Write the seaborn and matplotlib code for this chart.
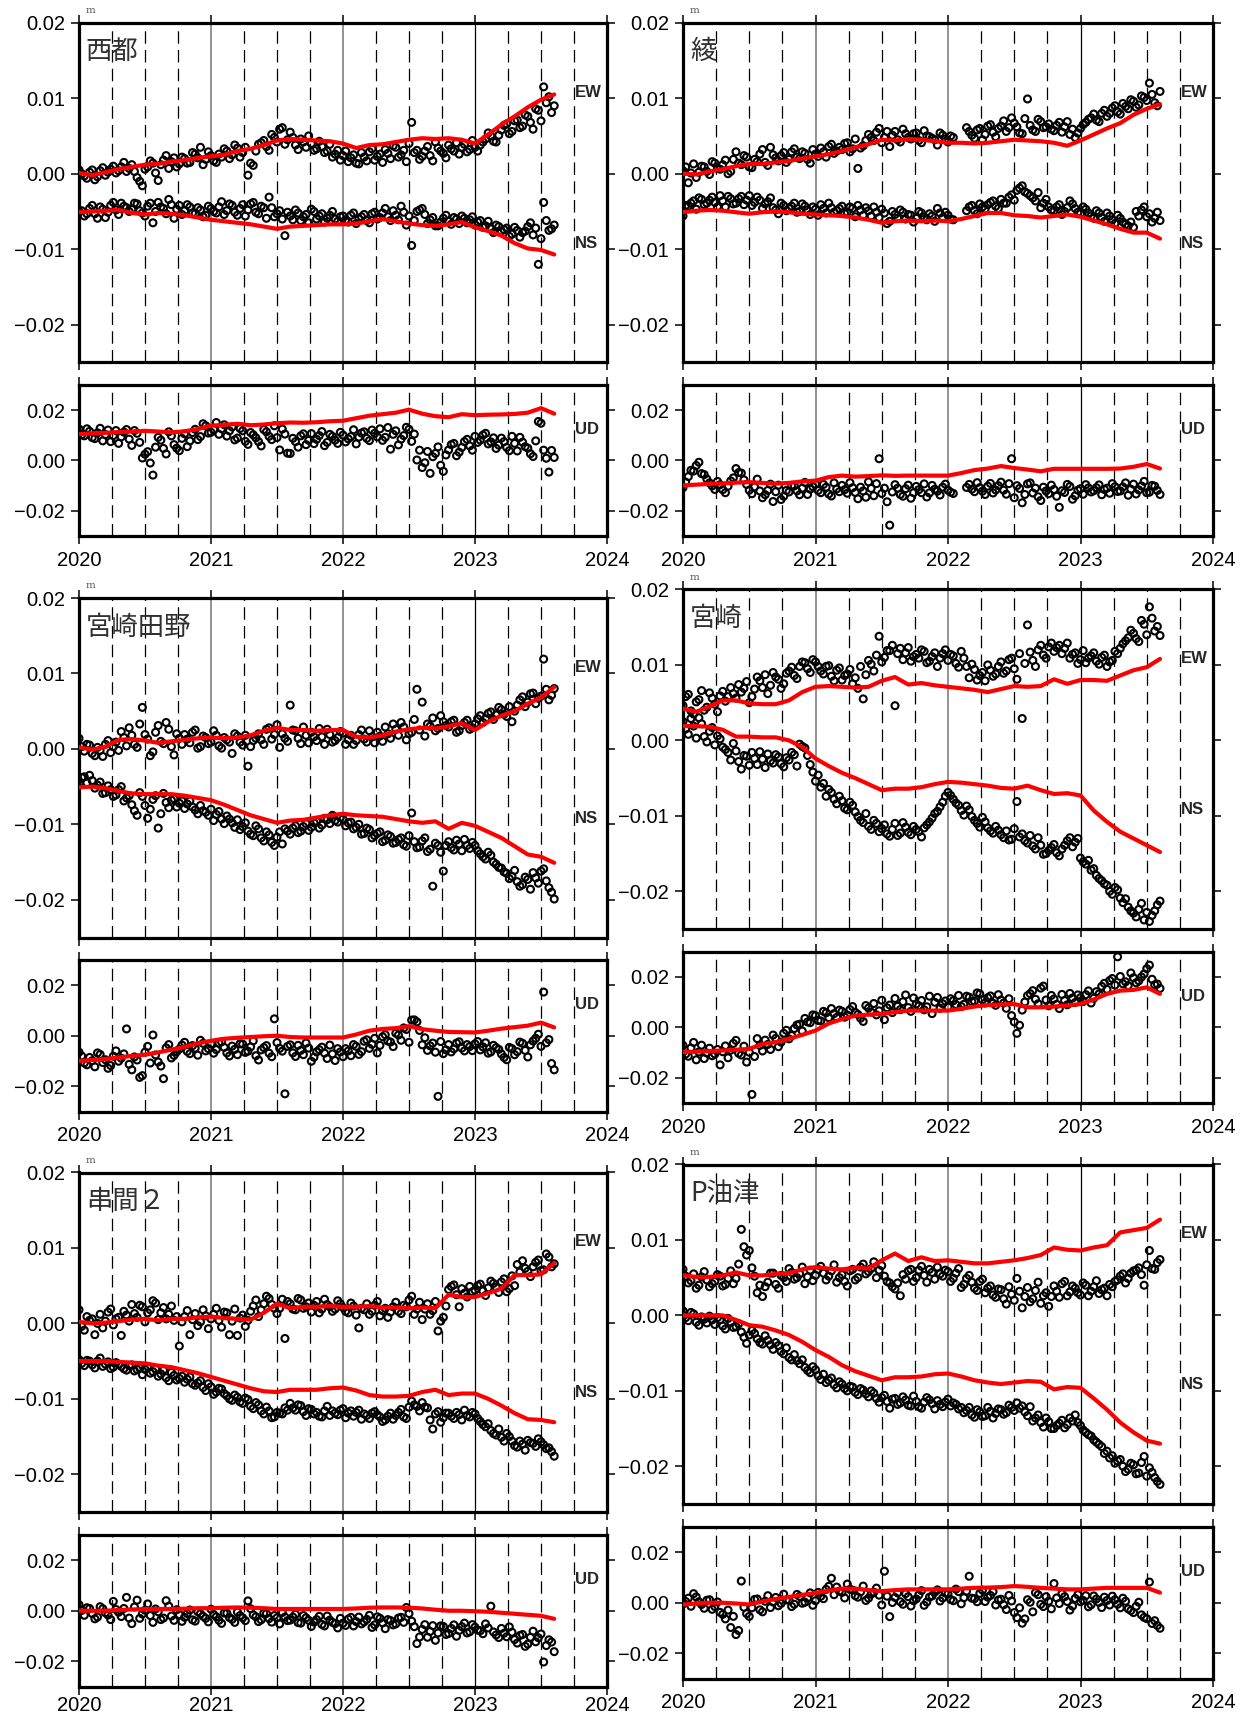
import numpy as np
import pandas as pd
import matplotlib
matplotlib.use("Agg")
import matplotlib.pyplot as plt
from matplotlib.ticker import FixedLocator, FuncFormatter
import seaborn as sns

nan = np.nan
# ---------------- time axes ----------------
OBS_YEARS_A = np.round(2020.00 + 0.04 * np.arange(91), 2)   # observation epochs (set A)
OBS_YEARS_B = np.round(2020.02 + 0.04 * np.arange(90), 2)   # observation epochs (set B)
MOD_YEARS = np.round(2020.0 + 0.1 * np.arange(37), 1)       # model epochs
YEAR_TICKS = [2020, 2021, 2022, 2023, 2024]
HORIZ_TICKS = [-0.02, -0.01, 0.0, 0.01, 0.02]
UD_TICKS = [-0.02, 0.0, 0.02]

# ---------------- data (mm) ----------------
# 西都
SAITO_EW_OBS = [0.5, -0.3, 0.2, -0.8, 0.4, -0.2, 0.6, 0.1, 0.9, 0.3,
 1.2, -0.5, -1.6, 0.9, 1.4, -0.9, 1.8, 0.7, 2.1, 1.3,
 2.0, 1.5, 2.6, 3.5, 1.9, 2.4, 1.5, 2.2, 3.0, 2.5,
 3.4, 2.8, -0.2, 1.1, 3.9, 4.4, 3.1, 4.8, 5.9, 3.9,
 5.5, 3.8, 4.6, 3.5, 4.0, 3.3, 3.6, 3.0, 2.2, 3.1,
 2.4, 1.6, 2.5, 1.3, 2.2, 2.9, 1.8, 2.6, 3.2, 2.0,
 3.5, 2.5, 1.6, 6.8, 3.1, 2.3, 3.6, 1.7, 3.4, 2.7,
 3.8, 3.0, 2.6, 3.9, 3.2, 3.5, 3.8, 4.6, 5.0, 4.2,
 5.8, 6.6, 5.6, 7.1, 6.3, 7.6, 5.9, 8.4, 11.5, 10.2, 9.0]
SAITO_EW_OBS_B = [0.0, -0.6, 0.5, -0.4, 0.8, 0.2, 1.0, 0.4, 1.5, 0.7,
 0.3, -1.0, 0.6, 1.7, 0.1, 1.2, 2.4, 1.6, 0.9, 2.2,
 1.4, 2.8, 2.1, 1.2, 2.9, 1.7, 2.6, 3.3, 2.0, 3.8,
 2.2, 3.5, 1.4, 3.0, 4.1, 3.6, 5.2, 4.2, 6.1, 4.5,
 4.8, 3.2, 4.2, 5.0, 3.1, 4.3, 2.8, 3.9, 2.6, 1.8,
 3.0, 2.1, 1.4, 2.8, 1.7, 3.3, 2.3, 1.5, 2.7, 3.7,
 2.2, 3.1, 4.0, 2.8, 1.9, 3.0, 2.4, 4.2, 3.0, 2.1,
 3.3, 4.1, 3.5, 2.9, 4.4, 3.0, 4.2, 5.4, 4.3, 5.1,
 6.4, 5.3, 7.0, 6.1, 7.8, 6.8, 8.6, 7.0, 9.4, 8.1]
SAITO_EW_MOD = [0.1, -0.2, 0.2, 0.6, 0.9, 1.2, 1.3, 1.6, 1.8, 2.1,
 2.3, 2.5, 3.0, 3.3, 3.8, 4.4, 4.6, 4.5, 4.4, 4.3,
 4.0, 3.4, 3.8, 3.9, 4.2, 4.5, 4.7, 4.6, 4.7, 4.5,
 4.0, 5.2, 6.5, 7.6, 8.8, 9.8, 10.5]
SAITO_NS_OBS = [-5.0, -5.6, -4.6, -5.3, -4.4, -5.8, -4.2, -4.8, -3.9, -4.5,
 -4.7, -4.0, -5.2, -4.3, -6.5, -3.8, -4.6, -3.4, -5.9, -4.2,
 -4.9, -4.4, -5.3, -4.8, -5.5, -4.6, -5.2, -3.7, -4.9, -4.2,
 -5.5, -4.1, -4.8, -3.8, -5.3, -4.5, -3.1, -5.7, -4.9, -8.2,
 -5.6, -4.8, -6.2, -5.4, -4.7, -6.0, -5.3, -5.9, -5.0, -6.3,
 -5.6, -6.4, -5.2, -6.0, -5.4, -6.5, -5.1, -5.8, -4.6, -6.2,
 -5.5, -4.3, -6.8, -9.5, -5.0, -4.6, -6.6, -5.8, -6.9, -5.9,
 -6.3, -5.8, -6.6, -5.9, -6.1, -6.8, -6.2, -6.9, -7.3, -6.8,
 -7.6, -7.2, -8.0, -7.5, -7.8, -7.0, -8.1, -12.0, -3.8, -7.5, -6.8]
SAITO_NS_OBS_B = [-4.9, -5.3, -4.2, -5.9, -4.7, -5.1, -3.8, -5.4, -4.3, -5.0,
 -3.9, -4.9, -5.6, -3.9, -5.0, -4.4, -5.3, -4.1, -4.7, -5.4,
 -4.1, -5.2, -4.5, -5.7, -4.3, -5.0, -4.4, -5.4, -4.0, -5.1,
 -4.6, -5.6, -4.0, -5.1, -4.3, -5.9, -4.5, -5.3, -6.0, -5.1,
 -6.1, -5.2, -5.7, -6.5, -5.0, -5.6, -6.4, -5.5, -6.0, -5.7,
 -6.1, -5.5, -6.6, -5.7, -6.2, -5.3, -6.0, -5.2, -5.7, -4.9,
 -6.1, -5.1, -5.6, -6.2, -4.8, -5.4, -6.1, -6.9, -6.4, -5.5,
 -6.7, -6.0, -5.6, -6.5, -5.7, -6.4, -7.1, -6.3, -7.8, -7.0,
 -7.4, -8.3, -7.1, -8.4, -7.6, -6.5, -7.2, -8.6, -6.2, -7.3]
SAITO_NS_MOD = [-5.1, -5.0, -4.9, -4.8, -5.2, -5.4, -5.2, -5.3, -5.5, -5.8,
 -6.1, -6.3, -6.5, -6.7, -7.0, -7.3, -7.0, -6.9, -6.8, -6.7,
 -6.7, -6.6, -6.3, -6.0, -6.3, -6.6, -6.8, -6.9, -6.7, -6.4,
 -7.1, -7.6, -8.2, -9.2, -9.9, -10.1, -10.7]
SAITO_UD_OBS = [12.5, 9.8, 11.6, 8.7, 12.8, 10.3, 7.5, 11.9, 9.4, 12.3,
 6.0, 10.8, 1.0, 3.5, -5.8, 9.2, 4.8, 11.4, 6.3, 3.9,
 10.6, 7.8, 12.4, 9.5, 13.8, 11.2, 15.1, 12.6, 9.7, 13.3,
 8.9, 11.8, 6.4, 10.2, 7.5, 12.3, 9.6, 13.8, 4.2, 10.5,
 2.8, 7.5, 9.8, 6.3, 10.7, 8.4, 11.5, 7.2, 9.6, 6.8,
 10.1, 8.6, 12.2, 9.3, 11.4, 7.9, 10.8, 12.6, 9.2, 4.5,
 11.8, 8.5, 13.2, 7.6, 0.2, -2.8, 3.6, 1.5, 5.4, -4.3,
 4.2, 6.8, 3.3, 7.5, 5.8, 9.6, 8.1, 10.8, 7.4, 4.8,
 8.9, 5.2, 9.6, 3.8, 7.3, 4.9, 1.6, 15.5, 4.1, -4.6, 1.2]
SAITO_UD_OBS_B = [10.2, 12.6, 9.1, 11.0, 7.8, 12.1, 9.9, 6.8, 11.3, 8.5,
 11.9, 7.2, 2.5, -1.0, 5.3, 8.1, 2.6, 9.8, 4.9, 8.8,
 5.5, 11.1, 8.3, 14.6, 10.9, 12.3, 10.4, 14.2, 11.8, 8.2,
 12.7, 7.6, 11.1, 9.0, 5.8, 11.4, 8.3, 9.1, 12.5, 2.9,
 8.8, 5.3, 10.6, 8.0, 6.7, 9.9, 5.9, 10.4, 8.1, 11.2,
 7.4, 9.5, 6.6, 10.9, 8.8, 12.1, 9.4, 8.0, 13.1, 10.4,
 6.2, 9.9, 12.4, 10.5, 4.1, -0.9, -5.1, 2.8, -1.9, 2.2,
 6.3, 1.9, 5.2, 8.4, 4.1, 7.2, 10.1, 6.6, 9.0, 6.1,
 7.5, 3.9, 6.8, 9.2, 5.5, 2.7, 7.8, 14.8, 0.9, 4.0]
SAITO_UD_MOD = [10.5, 10.8, 11.0, 11.3, 11.5, 11.8, 11.5, 11.2, 11.6, 12.5,
 13.8, 14.2, 14.6, 14.0, 14.3, 14.8, 15.1, 15.0, 15.2, 15.6,
 15.8, 16.8, 17.8, 18.4, 19.0, 20.2, 18.6, 17.6, 17.2, 18.4,
 18.0, 18.2, 18.3, 18.5, 19.0, 20.8, 18.6]

# 綾
AYA_EW_OBS = [0.4, -1.2, 1.3, 0.2, 0.9, -0.1, 1.4, 0.6, 1.8, 0.3,
 2.9, 1.2, 2.2, 0.8, 1.6, 3.2, 1.1, 2.5, 1.7, 2.8,
 1.9, 3.3, 2.0, 2.7, 1.4, 2.6, 3.4, 2.2, 3.9, 3.0,
 3.2, 4.1, 3.3, 0.7, 3.7, 5.2, 4.4, 6.0, 4.8, 3.6,
 5.6, 4.2, 5.3, 4.6, 5.4, 4.1, 5.0, 4.7, 3.8, 5.1,
 4.2, 4.8, nan, nan, 5.6, 4.7, 6.0, 5.2, 6.5, 4.9,
 6.3, 5.6, 7.4, 6.2, 5.3, 9.9, 5.8, 7.2, 6.1, 6.6,
 5.7, 6.8, 6.2, 5.2, 4.8, 6.0, 6.8, 7.4, 7.1, 8.0,
 7.6, 8.7, 8.2, 9.3, 8.6, 9.6, 9.1, 10.1, 12.0, 9.4, 10.9]
AYA_EW_OBS_B = [0.9, 0.1, -0.5, 1.0, 0.3, 1.6, 0.7, 1.2, 0.0, 1.9,
 1.4, 2.4, 0.9, 1.9, 2.6, 1.5, 3.5, 2.1, 2.4, 1.5,
 2.9, 2.2, 2.9, 1.9, 3.2, 2.3, 2.9, 3.6, 2.7, 3.5,
 4.0, 2.9, 4.6, 3.4, 4.4, 4.8, 5.5, 4.1, 5.6, 5.1,
 4.5, 5.9, 4.8, 5.3, 4.4, 5.7, 4.9, 4.5, 5.4, 4.6,
 5.0, nan, nan, 6.1, 5.1, 5.8, 4.5, 6.3, 5.5, 6.0,
 7.0, 6.1, 6.7, 5.4, 7.3, 6.4, 5.6, 6.9, 6.2, 5.9,
 6.4, 5.5, 6.9, 5.9, 5.4, 6.5, 7.2, 7.9, 6.9, 8.4,
 8.0, 9.0, 7.9, 8.9, 9.8, 8.8, 10.3, 9.7, 10.5, 9.0]
AYA_EW_MOD = [0.0, -0.1, 0.3, 0.6, 1.0, 1.3, 1.3, 1.5, 1.7, 2.0,
 2.3, 2.6, 3.0, 3.5, 3.9, 4.5, 4.4, 4.6, 4.5, 4.3,
 4.1, 4.1, 4.0, 4.1, 4.3, 4.5, 4.4, 4.3, 4.1, 3.7,
 4.4, 5.2, 6.0, 6.7, 7.8, 8.6, 9.2]
AYA_NS_OBS = [-5.6, -4.3, -3.6, -3.2, -4.1, -3.5, -3.8, -2.9, -4.4, -3.3,
 -3.9, -3.0, -3.5, -4.2, -3.1, -4.6, -3.7, -4.5, -5.3, -4.2,
 -4.6, -3.9, -5.0, -4.3, -5.4, -4.7, -4.1, -5.2, -4.5, -4.9,
 -4.3, -5.1, -4.6, -4.2, -5.5, -4.9, -4.4, -5.8, -5.2, -6.3,
 -5.4, -4.8, -6.0, -5.5, -5.9, -5.2, -6.1, -5.6, -4.6, -5.8,
 -5.5, -6.1, nan, nan, -4.4, -4.9, -4.0, -4.7, -3.8, -4.3,
 -3.4, -3.9, -2.8, -2.2, -1.6, -2.6, -3.2, -2.5, -3.9, -4.4,
 -4.9, -4.1, -5.0, -3.6, -4.6, -5.3, -4.7, -5.6, -4.9, -5.8,
 -5.2, -6.1, -5.5, -6.4, -6.9, -7.1, -5.6, -4.4, -5.3, -5.9, -6.2]
AYA_NS_OBS_B = [-4.2, -3.9, -4.7, -3.4, -3.9, -3.1, -4.4, -3.6, -3.0, -4.0,
 -3.3, -4.1, -2.9, -3.8, -3.5, -4.0, -3.2, -4.8, -3.9, -4.9,
 -4.3, -5.1, -4.0, -4.8, -4.4, -5.5, -4.6, -3.9, -5.1, -4.6,
 -5.3, -4.4, -5.7, -4.8, -4.5, -5.6, -5.1, -4.7, -6.6, -5.0,
 -5.9, -5.1, -5.4, -6.4, -5.0, -5.7, -5.3, -6.3, -5.2, -5.1,
 -6.0, nan, nan, -4.9, -4.2, -5.3, -4.4, -4.1, -3.6, -4.6,
 -3.9, -3.1, -3.5, -1.9, -2.4, -2.9, -3.6, -4.5, -3.4, -4.8,
 -4.4, -5.4, -4.5, -4.0, -5.1, -4.4, -5.2, -5.9, -5.2, -6.3,
 -5.6, -6.6, -5.9, -6.7, -6.4, -5.0, -4.8, -5.7, -6.4, -5.1]
AYA_NS_MOD = [-5.1, -4.9, -4.8, -4.9, -5.1, -5.3, -5.1, -5.0, -5.1, -5.3,
 -5.4, -5.5, -5.6, -5.8, -6.1, -6.5, -6.3, -6.2, -6.3, -6.2,
 -6.3, -6.0, -5.6, -5.2, -5.2, -5.5, -5.6, -5.8, -5.6, -5.4,
 -5.7, -6.2, -6.7, -7.3, -7.8, -7.8, -8.6]
AYA_UD_OBS = [-10.8, -6.4, -4.2, -0.7, -5.6, -8.9, -11.5, -9.6, -12.8, -8.1,
 -3.2, -5.0, -9.5, -13.2, -7.4, -14.8, -11.9, -16.3, -9.8, -14.2,
 -12.5, -10.1, -13.6, -8.7, -11.4, -9.4, -12.8, -10.6, -14.1, -11.3,
 -9.9, -13.0, -10.8, -15.2, -12.1, -8.5, -14.0, 0.7, -11.0, -25.7,
 -9.6, -13.5, -11.2, -15.0, -10.3, -12.8, -14.5, -9.9, -12.2, -10.6,
 -11.8, -13.1, nan, nan, -9.5, -12.4, -10.8, -13.5, -9.1, -11.7,
 -8.6, -13.4, 0.7, -10.0, -16.8, -9.3, -12.9, -14.4, -10.6, -13.2,
 -11.5, -18.6, -12.7, -10.3, -14.0, -11.2, -9.6, -12.5, -10.8, -13.6,
 -11.0, -9.2, -12.3, -10.5, -13.8, -9.4, -11.7, -8.3, -12.6, -10.2, -13.5]
AYA_UD_OBS_B = [-8.6, -3.9, -2.0, -5.2, -7.4, -10.1, -8.3, -11.6, -10.2, -6.9,
 -4.8, -7.7, -11.8, -10.5, -12.1, -13.6, -9.4, -12.4, -15.5, -11.9,
 -9.9, -12.1, -11.0, -13.5, -10.4, -11.9, -9.5, -13.3, -8.9, -12.4,
 -11.6, -8.8, -12.7, -10.6, -14.6, -11.1, -9.2, -13.1, -16.4, -12.5,
 -11.0, -14.2, -9.8, -12.8, -11.6, -9.3, -12.9, -11.4, -13.7, -9.4,
 -12.6, nan, nan, -10.7, -11.4, -8.8, -12.2, -10.2, -12.9, -10.0,
 -11.8, -9.2, -14.8, -11.1, -13.5, -8.9, -11.0, -15.9, -12.1, -9.8,
 -14.2, -12.0, -9.5, -15.4, -11.8, -13.4, -10.9, -12.0, -9.7, -11.5,
 -13.0, -10.4, -12.1, -8.9, -11.4, -13.3, -10.1, -12.8, -9.9, -11.9]
AYA_UD_MOD = [-9.9, -9.6, -9.3, -9.1, -8.8, -8.6, -8.9, -9.2, -8.9, -8.3,
 -8.0, -6.6, -6.0, -6.4, -6.2, -5.9, -6.1, -6.0, -6.0, -6.0,
 -6.0, -5.0, -3.8, -3.2, -2.2, -3.0, -3.6, -4.3, -3.3, -3.3,
 -3.3, -3.3, -3.3, -3.2, -2.5, -1.4, -3.2]

# 宮崎田野
TANO_EW_OBS = [1.4, -0.3, 0.5, -0.9, -0.2, 0.6, -0.5, 0.9, 2.3, 0.4,
 1.8, 0.2, 5.5, 1.3, -0.4, 3.1, 0.7, 2.6, -0.8, 1.4,
 1.9, 0.8, 2.5, 0.3, 1.5, 0.9, 1.8, 0.1, 1.2, -0.6,
 1.7, 0.5, -2.3, 1.1, 2.0, 0.6, 2.8, 1.9, 0.2, 1.4,
 5.8, 2.4, 0.7, 1.8, 2.2, 1.1, 1.6, 2.6, 0.9, 1.5,
 2.1, 1.2, 0.6, 1.9, 1.3, 2.4, 0.8, 1.7, 2.9, 1.4,
 2.6, 3.5, 1.2, 2.2, 7.9, 6.2, 3.3, 4.1, 2.7, 3.6,
 2.9, 3.8, 2.4, 3.5, 2.6, 3.3, 4.4, 4.0, 4.9, 4.5,
 5.2, 4.3, 3.6, 5.8, 6.9, 6.2, 7.4, 6.7, 11.9, 6.5, 8.0]
TANO_EW_OBS_B = [0.3, 0.6, -0.6, 0.2, -1.0, 1.1, 0.3, -0.2, 1.5, 2.8,
 0.6, 3.3, 1.9, -0.9, 2.2, 1.0, 3.5, 0.3, 2.0, 0.6,
 1.3, 2.2, 0.1, 1.7, 0.7, 2.4, 0.4, 1.5, 0.9, 2.0,
 0.9, 1.8, 0.3, 1.4, 1.2, 2.6, 1.3, 3.2, 2.0, 1.0,
 2.5, 1.4, 2.9, 0.8, 1.6, 2.7, 0.6, 1.9, 1.1, 2.3,
 0.6, 1.8, 1.1, 2.5, 0.9, 1.6, 2.2, 1.0, 2.0, 3.3,
 1.8, 2.9, 2.0, 3.9, 2.5, 1.7, 3.0, 2.4, 4.4, 3.1,
 3.6, 2.2, 3.1, 3.8, 2.8, 4.0, 3.5, 4.7, 3.9, 5.5,
 4.6, 5.6, 5.0, 6.5, 5.6, 7.3, 6.0, 7.0, 7.9, 7.1]
TANO_EW_MOD = [0.2, -0.1, 0.3, 1.2, 1.3, 1.1, 0.8, 1.0, 1.2, 1.4,
 1.5, 1.4, 1.5, 1.8, 2.4, 2.8, 2.5, 2.5, 2.4, 2.5,
 2.5, 1.6, 1.5, 1.8, 2.3, 2.6, 2.8, 2.7, 3.0, 3.4,
 2.5, 3.6, 4.4, 5.0, 6.0, 6.8, 8.2]
TANO_NS_OBS = [-4.6, -3.7, -3.5, -5.2, -4.4, -5.8, -5.4, -6.1, -5.0, -6.5,
 -7.4, -8.8, -6.3, -9.2, -6.7, -10.5, -5.9, -7.8, -6.6, -7.2,
 -7.9, -6.9, -8.1, -7.5, -8.4, -8.0, -8.7, -9.3, -8.9, -9.8,
 -9.4, -10.3, -10.9, -11.5, -10.6, -12.2, -11.4, -12.8, -11.0, -10.6,
 -11.3, -10.2, -10.9, -9.9, -10.4, -9.6, -10.1, -9.4, -8.8, -9.7,
 -9.3, -9.8, -10.6, -10.0, -11.2, -10.7, -11.5, -11.0, -12.1, -11.6,
 -12.4, -11.8, -12.9, -8.5, -13.1, -12.2, -13.6, -18.2, -12.8, -16.2,
 -12.3, -13.4, -12.6, -12.0, -13.2, -12.8, -13.9, -14.6, -14.1, -15.3,
 -15.8, -16.5, -16.9, -17.6, -18.0, -17.3, -16.4, -17.8, -15.9, -18.4, -19.9]
TANO_NS_OBS_B = [-3.8, -4.5, -4.2, -4.8, -5.9, -4.9, -6.3, -5.4, -6.9, -6.2,
 -8.2, -5.8, -7.5, -8.0, -6.2, -8.6, -7.1, -6.8, -7.7, -6.9,
 -7.3, -7.7, -8.6, -8.2, -8.8, -9.5, -8.3, -9.9, -9.3, -10.4,
 -10.7, -9.8, -11.3, -10.2, -11.8, -11.0, -12.4, -11.7, -12.6, -10.9,
 -10.5, -11.1, -10.3, -10.8, -9.8, -10.5, -9.2, -9.9, -9.5, -9.1,
 -10.2, -9.7, -10.4, -11.3, -10.5, -11.8, -11.2, -12.3, -11.4, -12.5,
 -12.0, -12.7, -11.5, -12.3, -13.0, -11.8, -13.3, -12.5, -13.7, -12.8,
 -13.1, -12.1, -13.5, -12.8, -12.4, -13.5, -14.3, -13.7, -15.0, -15.7,
 -16.3, -17.2, -16.1, -18.2, -17.0, -18.6, -17.1, -16.2, -17.5, -19.0]
TANO_NS_MOD = [-5.1, -5.0, -5.2, -5.6, -5.9, -6.0, -6.0, -6.0, -6.2, -6.5,
 -6.8, -7.4, -8.1, -8.8, -9.3, -9.8, -9.5, -9.4, -9.1, -8.8,
 -8.6, -8.8, -8.9, -9.0, -9.3, -9.6, -9.8, -9.6, -10.6, -9.8,
 -10.2, -11.0, -11.8, -12.9, -14.0, -14.3, -15.1]
TANO_UD_OBS = [-6.5, -10.8, -8.6, -12.3, -7.4, -9.5, -11.8, -6.0, -8.9, 2.7,
 -13.5, -9.6, -15.8, -4.2, 0.3, -10.4, -17.0, -3.5, -7.8, -5.3,
 -2.6, -7.1, -4.9, -1.8, -6.0, -3.2, -5.5, -2.4, -6.8, -4.1,
 -7.5, -3.3, -6.1, -2.0, -9.6, -4.7, -6.9, 6.7, -5.0, -23.0,
 -3.6, -8.2, -5.8, -2.9, -10.1, -6.4, -4.5, -9.0, -7.2, -5.1,
 -8.3, -6.0, -3.5, -7.4, -2.2, -5.0, -1.0, -3.8, 0.4, -2.5,
 1.0, -1.8, 2.5, 6.2, 5.5, -3.6, -5.8, -2.9, -24.0, -7.1,
 -3.5, -5.2, -2.4, -6.0, -4.3, -3.2, -5.6, -2.8, -6.4, -4.7,
 -7.2, -9.5, -5.1, -6.3, -3.0, -8.4, -2.1, 0.6, 17.3, -1.5, -13.5]
TANO_UD_OBS_B = [-8.0, -11.5, -9.9, -6.8, -10.6, -12.9, -8.1, -10.1, -7.2, -11.3,
 -8.4, -16.5, -6.5, -10.8, -7.6, -12.0, -4.8, -8.8, -6.3, -3.7,
 -6.2, -3.9, -7.7, -3.0, -5.1, -6.9, -2.9, -4.6, -8.0, -5.4,
 -3.2, -6.6, -4.4, -7.9, -5.6, -3.9, -8.3, -2.7, -6.1, -4.2,
 -6.8, -3.8, -7.5, -4.9, -8.5, -5.5, -6.9, -3.7, -9.8, -6.4,
 -5.1, -7.9, -4.2, -6.3, -1.6, -3.4, -6.8, -0.4, -2.1, -4.3,
 0.3, 3.1, -2.6, 6.3, 2.1, -0.8, -4.0, -6.5, -2.3, -5.6,
 -6.4, -2.9, -4.9, -3.5, -5.9, -2.3, -4.4, -6.9, -3.8, -5.4,
 -8.6, -4.6, -7.5, -2.5, -5.8, -3.6, -1.0, -4.2, -2.8, -11.0]
TANO_UD_MOD = [-10.0, -9.6, -9.2, -8.6, -8.0, -7.5, -6.6, -5.5, -4.4, -3.0,
 -2.0, -1.2, -0.8, -0.5, -0.2, 0.0, -0.5, -0.7, -0.7, -0.7,
 -0.7, 0.5, 2.0, 2.7, 3.0, 3.8, 2.6, 2.0, 1.5, 1.4,
 1.3, 2.0, 2.8, 3.4, 4.0, 5.2, 3.3]

# 宮崎
MIYA_EW_OBS = [4.6, 6.1, 3.5, 5.4, 4.0, 6.3, 4.8, 5.9, 5.2, 7.0,
 5.6, 6.4, 7.8, 5.8, 8.4, 7.0, 6.2, 9.0, 8.1, 7.5,
 9.2, 8.6, 9.8, 10.3, 9.0, 10.4, 9.2, 9.8, 8.5, 9.3,
 8.0, 8.8, 7.5, 6.9, 5.5, 10.6, 9.2, 13.8, 11.0, 11.9,
 4.6, 12.2, 11.6, 10.5, 11.4, 12.0, 10.3, 11.1, 9.8, 11.5,
 10.6, 11.2, 9.7, 10.9, 8.3, 9.4, 8.6, 7.9, 9.3, 8.8,
 10.4, 9.2, 10.9, 8.1, 2.9, 15.3, 10.6, 12.0, 11.3, 12.4,
 11.8, 12.6, 12.2, 10.9, 11.6, 10.7, 10.3, 11.2, 10.5, 11.0,
 9.8, 10.6, 11.5, 12.8, 13.6, 14.2, 13.1, 15.4, 17.7, 14.5, 13.9]
MIYA_EW_OBS_B = [5.8, 3.9, 5.1, 6.6, 4.4, 5.6, 3.8, 6.5, 5.8, 6.2,
 7.4, 6.9, 5.0, 6.8, 7.9, 8.7, 7.3, 8.4, 6.9, 8.9,
 9.7, 8.2, 10.4, 9.5, 10.7, 9.8, 8.8, 9.9, 7.9, 9.6,
 8.6, 9.4, 8.3, 9.8, 8.7, 10.1, 11.3, 10.4, 11.9, 12.6,
 11.5, 10.7, 12.3, 11.1, 10.9, 11.8, 10.5, 11.6, 10.9, 12.0,
 11.4, 10.2, 11.8, 9.8, 10.1, 8.0, 9.0, 10.0, 8.5, 9.8,
 8.9, 10.7, 9.5, 11.5, 10.2, 11.7, 9.8, 12.6, 10.9, 12.9,
 12.3, 11.5, 12.9, 11.4, 10.2, 11.9, 10.9, 11.6, 10.1, 11.3,
 10.4, 11.8, 12.2, 13.2, 14.6, 13.5, 15.9, 14.0, 16.2, 15.1]
MIYA_EW_MOD = [4.2, 3.8, 4.5, 5.3, 5.3, 4.9, 4.8, 4.8, 5.3, 6.4,
 7.1, 7.2, 7.1, 7.0, 7.1, 7.9, 8.4, 7.4, 7.6, 7.3,
 7.1, 6.9, 6.7, 6.4, 6.8, 7.2, 7.1, 7.2, 8.1, 7.5,
 8.0, 8.0, 7.9, 8.6, 9.3, 9.7, 10.8]
MIYA_NS_OBS = [2.5, 0.8, 1.9, 3.0, 0.5, 1.2, -0.6, 0.2, -1.2, -2.6,
 -1.4, -3.8, -2.1, -1.6, -3.2, -2.5, -1.8, -3.0, -2.2, -3.5,
 -2.6, -1.9, -0.5, -1.0, -3.2, -5.4, -6.2, -7.4, -6.9, -8.4,
 -8.0, -9.2, -8.6, -10.1, -10.9, -11.4, -10.6, -12.1, -11.2, -12.7,
 -11.0, -12.3, -11.5, -12.5, -11.8, -12.8, -11.2, -10.3, -9.4, -8.2,
 -6.9, -7.8, -8.6, -9.9, -9.2, -10.6, -11.5, -10.8, -12.0, -11.4,
 -12.5, -12.0, -13.1, -8.1, -12.4, -13.6, -14.0, -12.9, -15.1, -14.6,
 -13.8, -15.3, -13.9, -12.9, -13.5, -15.6, -16.4, -17.2, -17.9, -18.6,
 -19.2, -20.4, -19.8, -21.5, -22.1, -22.9, -22.4, -23.8, -24.0, -22.6, -21.3]
MIYA_NS_OBS_B = [1.5, 2.9, 0.3, 2.2, -0.2, 1.7, 0.6, -0.9, -1.6, -0.4,
 -2.8, -2.0, -3.3, -2.4, -1.5, -3.6, -2.7, -1.9, -3.1, -2.3,
 -1.6, -3.4, -0.8, -2.0, -4.2, -4.6, -5.7, -6.5, -7.8, -7.4,
 -9.0, -8.2, -9.5, -10.6, -9.7, -11.8, -11.0, -11.7, -12.4, -11.8,
 -12.6, -10.9, -12.2, -11.4, -12.1, -11.6, -10.8, -9.7, -8.8, -7.4,
 -7.3, -8.3, -9.3, -8.7, -10.1, -11.0, -10.2, -11.6, -12.3, -11.9,
 -12.9, -13.2, -11.7, -12.8, -13.3, -12.6, -14.4, -13.9, -15.0, -14.2,
 -14.9, -14.4, -13.3, -14.1, -13.0, -16.1, -15.9, -17.0, -18.3, -19.0,
 -20.0, -19.5, -20.9, -21.0, -22.6, -23.4, -21.6, -22.8, -23.2, -21.8]
MIYA_NS_MOD = [1.9, 1.9, 1.8, 1.4, 0.5, 0.5, 0.4, 0.4, 0.0, -0.9,
 -2.4, -3.4, -4.3, -5.0, -5.8, -6.6, -6.4, -6.4, -6.2, -5.8,
 -5.5, -5.6, -5.8, -6.0, -6.3, -6.4, -6.0, -6.6, -7.1, -7.0,
 -7.3, -9.3, -10.8, -12.1, -13.0, -13.9, -14.8]
MIYA_UD_OBS = [-7.2, -11.5, -6.0, -9.8, -12.4, -8.3, -10.6, -14.9, -7.4, -9.1,
 -5.2, -11.0, -13.8, -26.6, -4.5, -9.4, -6.8, -3.1, -7.7, -2.4,
 -4.6, -0.5, 1.2, 3.5, 1.8, 4.6, 2.5, 5.7, 7.4, 3.9,
 6.3, 4.8, 8.2, 5.1, 2.3, 7.6, 9.4, 6.5, 3.0, 8.8,
 11.4, 7.0, 12.8, 6.3, 9.2, 10.6, 8.1, 5.4, 11.8, 9.3,
 8.0, 10.5, 12.6, 9.1, 11.9, 10.3, 13.2, 9.6, 12.4, 8.7,
 10.8, 7.5, 4.6, -2.4, 6.8, 12.5, 14.5, 9.3, 16.3, 8.5,
 11.2, 7.4, 10.6, 13.4, 9.8, 11.7, 12.9, 9.6, 14.1, 16.2,
 15.0, 19.3, 27.9, 17.2, 16.5, 19.6, 18.4, 21.1, 24.6, 16.8, 15.4]
MIYA_UD_OBS_B = [-10.6, -8.2, -12.9, -7.1, -10.2, -11.3, -8.8, -9.7, -12.1, -6.4,
 -10.3, -7.5, -9.9, -11.6, -7.2, -5.1, -8.8, -4.4, -5.9, -1.2,
 -3.3, 0.9, -1.5, 2.1, 4.9, 2.7, 6.3, 3.8, 5.4, 6.8,
 4.0, 7.0, 5.9, 3.6, 8.6, 6.0, 4.9, 10.7, 7.7, 5.8,
 8.3, 10.1, 7.8, 11.6, 8.5, 6.9, 12.3, 9.9, 7.5, 10.4,
 11.3, 9.0, 8.2, 12.3, 10.1, 13.6, 10.9, 11.7, 9.5, 12.9,
 9.6, 11.3, 2.1, 0.8, 10.0, 13.3, 11.1, 15.5, 10.8, 12.6,
 9.1, 13.0, 8.9, 11.6, 12.8, 10.2, 14.4, 11.5, 13.2, 17.4,
 18.5, 16.7, 20.1, 18.0, 21.5, 17.6, 19.9, 23.2, 19.0, 17.1]
MIYA_UD_MOD = [-9.9, -9.7, -9.4, -9.2, -8.9, -8.6, -6.6, -5.9, -4.6, -3.0,
 -1.3, 1.5, 3.2, 4.6, 5.0, 5.3, 6.0, 6.6, 6.6, 6.6,
 6.6, 7.3, 8.2, 8.8, 9.0, 9.2, 7.9, 7.9, 8.2, 8.6,
 9.2, 11.0, 13.2, 14.5, 14.8, 15.8, 13.2]

# 串間２
KUSHIMA_EW_OBS = [1.8, -0.9, 0.4, -1.5, 1.2, 0.3, 1.9, 0.6, -1.6, 1.1,
 2.5, 0.8, 2.2, 1.4, 3.0, 0.5, 2.1, 1.2, 0.4, -3.0,
 0.9, -1.5, 1.3, 0.2, 1.0, 0.6, 2.0, -0.5, 1.4, 0.3,
 -1.6, 1.1, 0.4, 2.3, 0.9, 2.6, 3.3, 2.0, 2.0, -2.0,
 2.6, 1.8, 3.1, 2.2, 1.5, 2.9, 1.9, 2.5, 1.6, 3.0,
 2.1, 1.4, 2.3, -0.6, 1.8, 1.2, 2.4, 1.0, 2.0, 1.5,
 2.8, 1.3, 2.2, 3.6, 1.9, 0.5, 2.6, 1.7, -1.0, 0.8,
 4.5, 5.1, 2.2, 4.0, 4.9, 4.4, 5.2, 3.7, 5.6, 4.8,
 5.5, 4.2, 6.3, 7.8, 8.3, 6.9, 7.5, 8.4, 7.1, 8.8, 7.9]
KUSHIMA_EW_OBS_B = [-0.4, 0.9, 0.6, 0.0, -0.6, 1.5, -0.2, 0.8, 1.6, 0.3,
 1.3, 2.4, 0.2, 1.8, 2.7, 1.4, 0.6, 2.3, 0.9, 0.2,
 1.7, 0.5, -0.3, 1.8, -0.7, 1.2, 0.4, 1.5, -1.5, 1.9,
 0.7, -0.4, 1.6, 3.1, 1.8, 3.6, 2.5, 1.3, 3.2, 2.9,
 1.9, 3.3, 2.0, 2.7, 2.4, 1.4, 3.2, 2.2, 1.9, 2.6,
 1.6, 2.7, 1.1, 2.0, 2.6, 1.6, 2.9, 1.7, 0.8, 2.2,
 1.6, 2.4, 3.1, 1.2, 2.8, 1.9, 1.2, 2.9, 0.3, 2.3,
 4.9, 3.8, 4.6, 3.5, 4.2, 5.0, 4.3, 4.7, 5.3, 4.1,
 5.9, 4.6, 5.0, 6.8, 7.3, 6.2, 8.1, 7.0, 9.2, 7.5]
KUSHIMA_EW_MOD = [0.2, 0.0, 0.1, 0.3, 0.5, 0.6, 0.4, 0.6, 0.6, 0.8,
 0.9, 0.7, 0.6, 0.5, 1.4, 2.6, 2.0, 2.2, 2.2, 2.3,
 2.2, 2.2, 2.3, 2.1, 2.1, 2.0, 2.1, 2.0, 3.8, 3.5,
 3.5, 4.0, 4.6, 6.4, 6.4, 6.5, 8.0]
KUSHIMA_NS_OBS = [-4.8, -5.6, -5.0, -5.9, -4.6, -5.4, -6.0, -5.2, -5.7, -6.2,
 -5.5, -6.1, -6.8, -5.7, -6.4, -7.0, -6.2, -7.6, -6.9, -7.3,
 -7.8, -7.1, -8.2, -7.6, -8.9, -8.4, -9.1, -8.7, -9.6, -10.2,
 -9.8, -10.6, -10.1, -11.3, -10.8, -12.0, -11.6, -12.4, -11.9, -11.2,
 -10.6, -11.5, -10.9, -12.2, -11.4, -11.8, -12.4, -11.0, -11.6, -12.1,
 -11.3, -11.9, -12.3, -11.5, -12.0, -12.6, -11.7, -12.4, -12.8, -11.9,
 -12.2, -11.4, -12.6, -10.3, -11.0, -10.5, -11.2, -14.0, -11.7, -12.5,
 -11.9, -12.6, -12.1, -11.5, -12.4, -12.0, -13.0, -13.7, -14.2, -14.8,
 -15.1, -14.6, -15.6, -16.4, -16.0, -15.5, -15.9, -15.3, -16.1, -16.5, -17.6]
KUSHIMA_NS_OBS_B = [-5.3, -4.9, -5.5, -5.0, -5.7, -5.1, -5.8, -5.4, -6.0, -5.6,
 -6.3, -5.9, -6.1, -6.6, -6.0, -6.7, -7.2, -6.5, -7.5, -7.0,
 -7.4, -8.0, -7.9, -8.5, -8.0, -9.4, -8.6, -9.3, -10.0, -9.5,
 -10.4, -9.9, -11.0, -10.5, -11.6, -11.1, -12.5, -11.8, -12.0, -11.5,
 -11.2, -10.8, -11.7, -11.3, -12.0, -12.3, -11.6, -12.2, -11.9, -11.5,
 -12.5, -11.6, -11.8, -12.7, -12.2, -11.9, -12.1, -13.0, -12.3, -12.7,
 -11.8, -12.4, -11.1, -10.8, -11.6, -11.1, -12.8, -12.0, -13.1, -11.9,
 -12.3, -11.8, -12.8, -12.2, -11.8, -12.6, -13.4, -13.3, -14.6, -14.0,
 -15.6, -15.0, -16.2, -15.6, -16.8, -15.8, -16.3, -15.7, -16.6, -17.0]
KUSHIMA_NS_MOD = [-5.0, -5.0, -5.0, -5.1, -5.2, -5.3, -5.6, -5.8, -6.2, -6.6,
 -7.1, -7.6, -8.1, -8.6, -9.0, -9.1, -8.8, -8.8, -8.8, -8.6,
 -8.5, -8.9, -9.5, -9.7, -9.7, -9.6, -9.1, -8.8, -9.5, -9.3,
 -9.3, -10.0, -10.9, -11.9, -12.7, -12.8, -13.1]
KUSHIMA_UD_OBS = [2.4, -1.8, 0.9, -3.2, 1.6, -0.8, -3.5, 0.5, -2.3, 5.3,
 -5.1, 4.2, -1.3, 2.7, -4.6, -0.4, -2.9, 1.8, -3.8, -1.5,
 -2.6, 0.3, -4.1, -1.2, -3.0, 0.6, -2.4, -5.0, -1.0, -3.4,
 -0.5, -2.8, 3.9, -1.6, -4.3, -0.9, -3.1, -1.9, -5.2, -2.5,
 -3.7, -1.4, -4.9, -2.8, -6.2, -3.5, -5.4, -2.1, -4.6, -6.8,
 -4.9, -3.3, -6.0, -2.5, -4.4, -1.8, -5.6, -3.0, -7.1, -3.9,
 -5.2, -2.6, 1.3, -4.1, -13.0, -7.4, -10.5, -5.9, -8.8, -6.2,
 -9.0, -5.6, -7.8, -4.9, -8.3, -6.5, -7.9, -5.2, 1.8, -9.6,
 -7.0, -10.3, -8.5, -12.8, -9.4, -13.2, -8.1, -10.7, -20.3, -11.5, -16.2]
KUSHIMA_UD_OBS_B = [0.1, 1.2, -1.1, -2.5, 0.8, -1.7, 3.7, -0.6, 0.9, -2.9,
 1.5, -3.0, 0.2, -1.9, 0.7, -3.5, 4.0, -2.1, 0.4, -4.2,
 -1.1, -3.6, -0.4, -2.2, -4.4, -1.5, -3.8, -0.9, -2.7, -4.6,
 -1.9, -3.9, 0.8, -2.4, -3.6, -1.1, -4.5, -2.8, -0.7, -3.9,
 -2.5, -4.7, -1.9, -3.8, -4.5, -2.2, -6.0, -3.7, -5.1, -3.0,
 -5.8, -2.6, -4.3, -5.2, -3.4, -6.6, -2.4, -4.8, -3.5, -5.6,
 -2.9, -4.6, -1.1, -6.3, -10.4, -5.5, -8.2, -11.7, -6.0, -9.4,
 -7.0, -10.1, -6.3, -8.8, -5.5, -7.7, -9.1, -6.8, -8.4, -10.6,
 -8.9, -6.4, -11.4, -9.8, -14.1, -10.5, -12.3, -9.2, -13.8, -12.4]
KUSHIMA_UD_MOD = [0.0, 0.0, 0.0, 0.3, 0.5, 0.7, 0.7, 0.7, 0.8, 1.0,
 1.0, 1.2, 1.3, 1.2, 1.0, 0.7, 0.7, 0.7, 0.7, 0.7,
 0.7, 0.9, 1.2, 1.3, 1.3, 1.2, 0.9, 0.4, 0.0, 0.0,
 -0.2, -0.4, -0.8, -1.2, -1.6, -2.0, -3.2]

# P油津
ABURATSU_EW_OBS = [6.1, 4.3, 5.5, 4.0, 5.8, 3.8, 4.5, 5.2, 4.1, 5.9,
 4.9, 11.4, 8.0, 6.3, 3.0, 2.5, 4.4, 5.6, 3.6, 5.0,
 6.2, 4.8, 5.5, 4.2, 6.0, 5.3, 6.5, 4.7, 5.9, 4.4,
 5.4, 3.9, 6.1, 5.0, 6.8, 5.8, 7.1, 6.0, 5.2, 4.3,
 3.5, 2.6, 4.8, 6.1, 5.0, 6.5, 4.4, 5.7, 6.4, 5.2,
 5.8, 4.9, 6.2, 4.1, 5.3, 3.6, 4.5, 3.0, 3.9, 2.4,
 3.4, 1.5, 2.8, 4.9, 1.0, 3.7, 2.2, 4.4, 2.6, 1.2,
 3.9, 2.4, 4.5, 3.1, 3.6, 2.7, 4.0, 3.2, 4.6, 3.4,
 2.6, 3.8, 4.7, 5.5, 4.9, 5.9, 6.3, 4.0, 8.6, 6.1, 7.4]
ABURATSU_EW_OBS_B = [5.2, 4.6, 3.6, 5.1, 4.7, 4.2, 5.4, 3.9, 4.9, 4.2,
 6.8, 9.1, 8.6, 5.2, 4.0, 3.8, 5.6, 4.1, 5.3, 4.5,
 5.7, 5.0, 6.4, 5.1, 4.6, 6.1, 5.6, 5.2, 6.7, 5.0,
 4.5, 5.9, 4.7, 6.4, 5.5, 6.2, 5.0, 6.6, 4.5, 3.8,
 4.3, 5.4, 5.9, 4.5, 6.0, 5.3, 6.1, 4.8, 5.5, 6.0,
 4.5, 5.6, 3.7, 4.9, 4.4, 3.3, 4.8, 3.6, 2.7, 3.5,
 2.2, 3.8, 2.0, 3.2, 2.5, 1.8, 3.3, 1.6, 3.0, 2.5,
 3.2, 4.2, 2.6, 3.9, 3.0, 4.3, 2.6, 3.8, 2.9, 3.6,
 4.1, 4.5, 5.2, 4.3, 5.6, 6.0, 5.4, 6.7, 6.2, 7.0]
ABURATSU_EW_MOD = [5.3, 5.1, 5.1, 5.3, 5.7, 5.3, 5.3, 5.5, 5.6, 6.1,
 6.4, 6.2, 6.1, 6.3, 6.2, 7.3, 8.2, 7.2, 7.7, 7.2,
 7.3, 7.1, 6.9, 6.9, 7.1, 7.3, 7.6, 8.0, 9.0, 8.7,
 8.6, 9.0, 9.3, 11.0, 11.3, 11.6, 12.7]
ABURATSU_NS_OBS = [0.6, -0.7, 0.2, -1.3, -0.5, -0.1, -1.2, -0.6, -1.8, -0.9,
 -1.5, -2.2, -3.7, -2.0, -3.1, -3.8, -3.3, -4.5, -4.0, -5.1,
 -5.6, -5.2, -6.4, -6.9, -7.6, -7.2, -8.5, -8.9, -8.3, -9.6,
 -9.1, -10.0, -9.5, -10.5, -9.9, -10.8, -10.3, -11.5, -10.6, -12.3,
 -11.0, -11.6, -11.2, -12.0, -11.4, -12.3, -10.9, -11.7, -11.3, -12.1,
 -11.1, -11.6, -12.4, -12.9, -12.2, -13.5, -12.8, -13.3, -12.7, -13.0,
 -12.5, -12.9, -12.2, -11.6, -12.0, -13.3, -14.0, -13.2, -14.8, -14.1,
 -15.0, -14.3, -14.9, -13.6, -13.2, -14.6, -15.5, -16.0, -16.8, -17.4,
 -18.0, -18.6, -19.3, -20.0, -20.4, -19.8, -20.9, -18.7, -20.2, -21.5, -22.4]
ABURATSU_NS_OBS_B = [-0.3, 0.4, -0.9, -0.2, -1.0, -0.6, -0.3, -1.4, -0.4, -1.6,
 -1.1, -2.9, -2.6, -2.4, -3.6, -2.7, -3.9, -3.6, -4.8, -4.3,
 -5.9, -6.0, -5.9, -7.3, -6.8, -8.0, -7.8, -8.6, -9.2, -8.8,
 -9.7, -9.4, -10.2, -9.7, -10.4, -10.0, -11.0, -10.9, -11.4, -11.1,
 -11.8, -10.8, -11.9, -10.7, -12.1, -11.5, -11.2, -12.4, -11.8, -11.5,
 -12.0, -11.8, -12.2, -12.6, -13.2, -12.5, -13.4, -12.2, -13.6, -12.4,
 -13.1, -11.9, -12.6, -12.3, -12.8, -12.1, -13.6, -14.2, -13.6, -15.0,
 -14.6, -13.9, -14.5, -14.0, -14.2, -15.2, -15.8, -16.5, -17.1, -18.3,
 -18.9, -19.6, -19.1, -20.7, -19.6, -21.0, -19.5, -21.3, -20.8, -22.0]
ABURATSU_NS_MOD = [0.0, 0.0, 0.0, 0.0, -0.6, -1.3, -1.5, -2.0, -2.6, -3.5,
 -4.6, -5.5, -6.6, -7.4, -8.0, -8.6, -8.2, -8.2, -8.1, -7.8,
 -7.7, -8.1, -8.6, -8.9, -9.1, -8.9, -8.7, -8.8, -9.8, -9.5,
 -9.6, -11.0, -12.5, -14.2, -15.5, -16.6, -17.0]
ABURATSU_UD_OBS = [-0.5, 1.8, 3.6, 0.4, -2.2, 1.2, -1.5, -3.8, -6.4, -9.8,
 -12.6, 8.6, -4.3, -2.0, 1.5, -3.6, 2.8, 0.3, -1.2, 3.4,
 1.0, -0.6, 2.5, 0.2, 3.9, 0.8, 2.6, 5.3, 9.7, 6.2,
 4.1, 7.4, 5.0, 2.2, 6.6, 1.8, 4.2, 3.0, 12.5, -5.5,
 2.1, 0.4, 3.6, -1.3, 1.5, 4.8, 0.3, 2.7, 5.1, 1.9,
 3.5, 0.8, 4.4, 2.0, 10.5, 1.6, 3.7, 0.5, 2.9, -0.9,
 1.4, -2.7, 0.7, -5.9, -8.1, 1.2, -3.6, 3.2, -1.5, 0.6,
 7.6, -0.3, 2.4, -2.9, 1.7, 0.4, 2.8, -0.8, 1.5, -1.9,
 0.9, 2.6, -0.6, 1.8, -2.4, -3.9, 0.2, -5.8, 8.2, -7.1, -10.1]
ABURATSU_UD_OBS_B = [0.5, -1.4, 2.3, -0.7, 1.0, -2.6, 0.3, -4.6, -2.9, -5.4,
 -11.0, -1.8, -5.4, 1.3, -2.8, 0.6, -1.9, 2.1, -0.3, 1.1,
 -1.5, 3.3, -0.2, 1.9, -1.0, 4.1, 1.6, 6.5, 3.2, 4.6,
 1.9, 5.3, 2.8, 4.3, 0.9, 3.4, 5.8, -0.9, 2.6, 0.1,
 3.9, -0.6, 2.4, 0.8, 3.1, -1.0, 2.2, 4.2, 0.7, 3.8,
 1.3, 5.4, -0.4, 4.6, 1.8, 0.4, 5.0, 2.2, 4.4, 1.1,
 -0.8, 2.9, -3.9, -2.0, -6.4, 0.2, 4.0, -0.6, 2.4, -2.4,
 1.9, 3.6, 0.5, -1.3, 3.2, 0.9, -1.6, 2.7, 0.1, 2.2,
 -0.9, 1.2, -2.0, 0.6, -3.1, -1.4, -4.8, -6.3, -8.2, -9.0]
ABURATSU_UD_MOD = [-0.7, -0.3, 0.0, 0.0, -0.3, -0.7, 0.5, 1.5, 2.3, 3.1,
 3.9, 4.8, 5.6, 5.6, 5.0, 4.6, 5.0, 5.3, 5.3, 5.3,
 5.3, 5.6, 5.9, 6.0, 6.2, 6.6, 6.3, 5.9, 5.6, 5.3,
 5.3, 5.6, 5.9, 5.9, 5.9, 5.9, 4.0]

STATIONS = [
    ("西都", (SAITO_EW_OBS, SAITO_EW_OBS_B, SAITO_EW_MOD), (SAITO_NS_OBS, SAITO_NS_OBS_B, SAITO_NS_MOD), (SAITO_UD_OBS, SAITO_UD_OBS_B, SAITO_UD_MOD)),
    ("綾", (AYA_EW_OBS, AYA_EW_OBS_B, AYA_EW_MOD), (AYA_NS_OBS, AYA_NS_OBS_B, AYA_NS_MOD), (AYA_UD_OBS, AYA_UD_OBS_B, AYA_UD_MOD)),
    ("宮崎田野", (TANO_EW_OBS, TANO_EW_OBS_B, TANO_EW_MOD), (TANO_NS_OBS, TANO_NS_OBS_B, TANO_NS_MOD), (TANO_UD_OBS, TANO_UD_OBS_B, TANO_UD_MOD)),
    ("宮崎", (MIYA_EW_OBS, MIYA_EW_OBS_B, MIYA_EW_MOD), (MIYA_NS_OBS, MIYA_NS_OBS_B, MIYA_NS_MOD), (MIYA_UD_OBS, MIYA_UD_OBS_B, MIYA_UD_MOD)),
    ("串間２", (KUSHIMA_EW_OBS, KUSHIMA_EW_OBS_B, KUSHIMA_EW_MOD), (KUSHIMA_NS_OBS, KUSHIMA_NS_OBS_B, KUSHIMA_NS_MOD), (KUSHIMA_UD_OBS, KUSHIMA_UD_OBS_B, KUSHIMA_UD_MOD)),
    ("P油津", (ABURATSU_EW_OBS, ABURATSU_EW_OBS_B, ABURATSU_EW_MOD), (ABURATSU_NS_OBS, ABURATSU_NS_OBS_B, ABURATSU_NS_MOD), (ABURATSU_UD_OBS, ABURATSU_UD_OBS_B, ABURATSU_UD_MOD)),
]

# ---------------- layout (pixels) ----------------
W, H = 1247, 1717
COLS = [(79, 607), (683, 1213)]
ROWS = [(22.7, 362.5, 385, 536), (22.7, 362.5, 385, 536),
        (598, 937.5, 960, 1111.5), (589.5, 929, 951.5, 1103),
        (1172.5, 1512, 1535, 1686.5), (1164.5, 1504, 1527, 1678.5)]
XLABEL_PAD = [4.5, 4.5, 4.5, 4.5, 1.0, 4.5]

sns.set_style("white")
plt.rcParams["font.family"] = ["Liberation Sans", "Noto Sans CJK JP", "DejaVu Sans"]
plt.rcParams["axes.unicode_minus"] = True
plt.rcParams["lines.scale_dashes"] = False

fig = plt.figure(figsize=(W / 100, H / 100), dpi=100)


def fmt(v, pos):
    s = f"{v:.2f}"
    if s == "-0.00":
        s = "0.00"
    return s.replace("-", "\u2212")


def add_ax(x0, x1, top, bottom):
    return fig.add_axes([x0 / W, 1 - bottom / H, (x1 - x0) / W, (bottom - top) / H])


def style_ax(ax, ylim, yticks, show_xlabels, xpad):
    ax.set_xlim(2020, 2024)
    ax.set_ylim(*ylim)
    ax.set_facecolor("white")
    for sp in ax.spines.values():
        sp.set_visible(True)
        sp.set_linewidth(2.3)
        sp.set_color("black")
    for y in [2021, 2022]:
        ax.axvline(y, color="#8a8a8a", lw=1.3, zorder=1)
    ax.axvline(2023, color="black", lw=0.9, zorder=1)
    for y in [2020, 2021, 2022, 2023]:
        for q in (0.25, 0.5, 0.75):
            ax.axvline(y + q, color="black", lw=0.9, ls=(0, (9, 4.5)), zorder=1)
    ax.xaxis.set_major_locator(FixedLocator(YEAR_TICKS))
    ax.yaxis.set_major_locator(FixedLocator(yticks))
    ax.yaxis.set_major_formatter(FuncFormatter(fmt))
    ax.xaxis.set_major_formatter(FuncFormatter(lambda v, p: f"{int(round(v))}"))
    ax.tick_params(axis="x", which="major", direction="out", length=6, width=1.1,
                   top=True, bottom=True, labelbottom=show_xlabels, labeltop=False,
                   labelsize=14.5, pad=xpad, colors="black")
    ax.tick_params(axis="y", which="major", direction="out", length=6, width=1.1,
                   left=True, right=True, labelleft=True, labelright=False,
                   labelsize=14.5, pad=4, colors="black")
    ax.set_xlabel("")
    ax.set_ylabel("")
    ax.grid(False)


def draw_series(ax, comp):
    obs_a, obs_b, mod = comp
    obs_df = pd.concat([
        pd.DataFrame({"year": OBS_YEARS_A, "disp": np.array(obs_a, dtype=float) / 1000.0}),
        pd.DataFrame({"year": OBS_YEARS_B, "disp": np.array(obs_b, dtype=float) / 1000.0}),
    ]).dropna().sort_values("year")
    mod_df = pd.DataFrame({"year": MOD_YEARS, "disp": np.array(mod, dtype=float) / 1000.0})
    sns.scatterplot(data=obs_df, x="year", y="disp", ax=ax, marker="o", s=25,
                    color="black", linewidth=1.5, legend=False, zorder=3)
    coll = ax.collections[-1]
    coll.set_facecolor("none")
    coll.set_edgecolor("black")
    sns.lineplot(data=mod_df, x="year", y="disp", ax=ax, color="red", linewidth=3.0,
                 estimator=None, sort=False, legend=False, zorder=4)


for i, (name, ew, ns, ud) in enumerate(STATIONS):
    x0, x1 = COLS[i % 2]
    t_top, t_bot, u_top, u_bot = ROWS[i]

    axh = add_ax(x0, x1, t_top, t_bot)
    draw_series(axh, ew)
    draw_series(axh, ns)
    style_ax(axh, (-0.025, 0.02), HORIZ_TICKS, False, XLABEL_PAD[i])
    axh.text(2023.76, 0.0108, "EW", fontsize=12, fontweight="bold", ha="left", va="center", zorder=6)
    axh.text(2023.76, -0.0092, "NS", fontsize=12, fontweight="bold", ha="left", va="center", zorder=6)
    axh.text(0.013, 1 - 29 / (t_bot - t_top), name, transform=axh.transAxes,
             fontsize=19, family=["Noto Sans CJK JP", "DejaVu Sans"],
             color="#303030", ha="left", va="center", zorder=6)
    axh.text(0.012, 1 + 12 / (t_bot - t_top), "m", transform=axh.transAxes,
             fontsize=7.5, family=["DejaVu Serif"], color="#555555", ha="left", va="center")

    axu = add_ax(x0, x1, u_top, u_bot)
    draw_series(axu, ud)
    style_ax(axu, (-0.03, 0.03), UD_TICKS, True, XLABEL_PAD[i])
    axu.text(2023.76, 0.0122, "UD", fontsize=12, fontweight="bold", ha="left", va="center", zorder=6)

fig.savefig("out.png", dpi=100, facecolor="white")
